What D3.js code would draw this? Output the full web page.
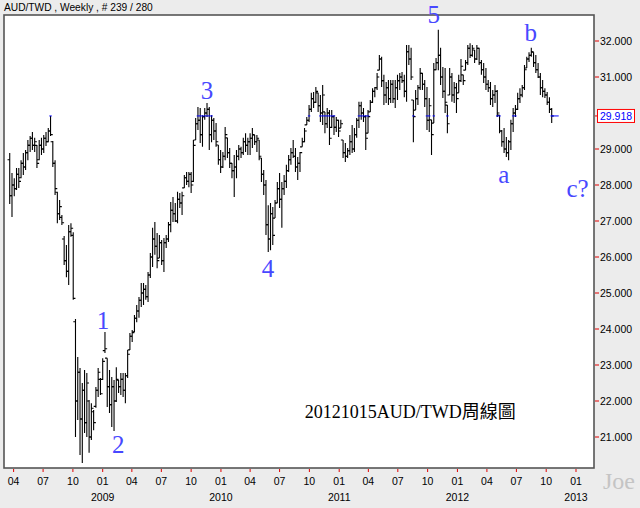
<!DOCTYPE html>
<html><head><meta charset="utf-8">
<script src="https://cdn.jsdelivr.net/npm/d3@7"></script>
<style>html,body{margin:0;padding:0;background:#ececec;}svg{display:block;}</style>
</head><body>
<svg id="chart" width="640" height="508"></svg>
<script>
const title = "AUD/TWD , Weekly , # 239 / 280";
const firstWeek = "2008-03-17";
const high = [
28.89,28.33,28.19,28.47,28.47,28.69,28.89,28.97,29.25,29.36,
29.47,29.31,29.11,29.25,29.31,29.39,29.47,29.58,29.92,29.22,
28.69,27.81,27.58,27.17,26.58,26.33,26.89,26.94,26.69,24.28,
23.22,22.92,22.50,22.86,22.78,22.03,21.94,21.75,22.39,22.92,
22.64,23.19,23.92,23.19,22.86,22.67,22.58,22.94,22.58,22.78,
22.78,22.78,23.42,23.89,23.97,24.39,24.67,24.89,25.28,25.28,
25.22,25.58,26.11,26.81,26.97,26.67,26.61,26.47,26.53,26.61,
26.97,27.53,27.67,27.50,27.81,27.78,27.81,28.28,28.36,28.36,
28.36,29.25,29.86,30.17,30.14,29.94,30.14,30.28,30.17,29.94,
29.86,29.72,29.11,28.97,28.92,29.61,29.31,29.03,28.61,28.83,
28.97,29.11,29.06,29.31,29.44,29.31,29.44,29.58,29.39,29.39,
29.25,28.75,28.42,28.14,27.44,27.50,27.39,27.58,28.08,28.33,
28.08,28.28,28.56,28.83,29.03,29.25,29.03,28.78,28.92,29.31,
29.58,29.89,30.22,30.56,30.58,30.72,30.56,30.50,30.78,30.03,
30.14,30.08,30.08,29.94,29.89,29.81,29.81,29.25,29.17,29.03,
29.39,29.67,29.58,29.86,30.31,30.31,30.14,29.94,30.08,30.36,
30.69,30.72,31.11,31.61,31.56,31.06,30.86,30.92,30.92,30.92,
30.92,31.06,31.11,31.14,31.06,31.89,31.89,31.81,30.36,30.64,
30.78,31.25,31.11,30.92,30.72,30.42,29.81,31.39,31.53,32.31,
31.81,31.28,31.25,30.22,31.25,31.11,30.86,30.83,31.06,31.50,
31.06,31.47,31.89,31.94,31.89,31.75,31.89,31.81,31.47,31.39,
31.25,30.92,30.86,30.64,30.78,30.64,29.94,29.53,29.58,29.33,
29.25,29.81,30.14,30.22,30.56,30.69,30.78,31.33,31.56,31.69,
31.81,31.69,31.61,31.39,31.11,30.92,30.69,30.58,30.44,30.14];
const low = [
27.47,27.11,27.69,27.86,27.92,28.19,28.28,28.42,28.69,28.92,
28.97,28.92,28.47,28.69,28.83,28.89,29.08,29.19,29.36,28.50,
27.72,26.94,27.03,26.89,25.78,25.44,25.22,26.56,24.81,21.00,
21.47,20.50,20.28,21.11,21.00,20.56,20.92,21.19,21.81,22.11,
22.17,22.58,23.33,21.83,21.67,21.28,21.17,21.97,22.22,22.17,
22.11,21.94,22.64,23.42,23.64,23.92,24.19,24.31,24.61,24.67,
24.81,24.75,25.42,25.72,26.06,25.69,25.97,25.78,25.58,26.25,
26.42,26.69,26.97,26.97,26.94,27.36,27.17,27.92,28.00,27.94,
27.78,28.08,29.25,29.53,29.17,29.06,29.81,29.89,28.97,29.19,
29.25,29.06,28.56,28.33,28.47,28.69,28.75,28.47,28.19,27.67,
28.19,28.69,28.75,28.83,28.92,28.83,28.83,29.03,29.11,28.92,
28.69,28.08,27.72,26.61,26.14,26.19,26.33,27.08,27.50,27.36,
26.81,27.72,27.92,28.36,28.56,28.75,28.36,28.14,28.36,29.06,
29.19,29.67,29.75,30.03,30.14,30.28,30.03,29.75,29.67,29.44,
29.58,29.11,29.58,29.39,29.47,29.33,29.58,28.75,28.64,28.75,
28.83,28.89,28.92,29.31,29.58,29.81,29.75,28.97,29.44,30.03,
30.28,30.44,30.64,31.19,30.72,30.22,30.28,30.22,30.28,30.28,
30.14,30.36,30.64,30.83,30.44,30.31,31.33,30.92,29.19,30.08,
30.22,30.64,30.64,30.17,29.53,29.47,28.83,29.72,31.19,31.19,
30.78,30.42,30.00,29.44,30.50,30.31,30.28,30.00,30.56,30.86,
30.78,31.19,31.33,31.53,31.56,31.39,31.47,31.33,31.06,30.83,
30.64,30.58,30.22,30.17,30.28,29.89,29.44,29.06,28.89,28.78,
28.69,28.97,29.47,29.89,30.08,30.28,30.44,30.64,31.25,31.42,
31.56,31.28,31.11,30.97,30.50,30.44,30.42,30.22,30.00,29.72];
const open = [
28.70,27.70,28.00,27.90,28.30,28.20,28.60,28.50,28.90,29.10,
29.30,29.10,29.10,28.70,29.10,29.00,29.30,29.20,29.50,29.20,
28.60,27.80,27.20,27.10,26.50,25.90,25.60,26.70,26.60,24.20,
22.00,22.80,21.50,22.30,21.40,22.00,21.00,21.70,21.85,22.30,
22.60,22.60,23.40,23.19,22.40,21.90,22.40,22.00,22.58,22.40,
22.60,22.30,22.70,23.42,23.80,23.92,24.30,24.50,24.80,25.00,
25.10,24.90,25.50,26.00,26.50,26.30,25.97,26.40,25.90,26.40,
26.50,26.90,27.30,27.20,27.00,27.60,27.50,27.92,28.20,28.10,
28.30,28.10,29.25,29.70,29.80,29.40,29.90,30.00,30.10,29.40,
29.80,29.50,29.11,28.70,28.50,28.80,29.31,28.90,28.60,28.40,
28.50,28.80,29.00,28.90,29.20,29.10,29.20,29.30,29.39,29.20,
29.25,28.75,28.30,28.00,26.90,26.50,27.20,27.08,27.50,27.90,
27.60,27.90,28.10,28.40,28.70,28.90,28.80,28.50,28.60,29.06,
29.20,29.67,29.80,30.10,30.40,30.30,30.56,30.20,30.00,30.03,
29.70,30.00,29.60,29.90,29.60,29.80,29.58,29.25,28.90,28.80,
28.95,29.20,29.00,29.40,29.80,30.20,30.00,29.90,29.44,30.03,
30.30,30.60,30.70,31.19,31.50,30.90,30.50,30.70,30.40,30.80,
30.40,30.70,30.90,31.00,30.90,30.60,31.70,31.50,30.36,30.08,
30.40,30.70,31.10,30.80,30.40,29.80,29.81,29.72,31.20,31.40,
31.60,31.00,30.60,30.22,30.50,31.00,30.50,30.70,30.56,30.90,
31.06,31.19,31.40,31.80,31.60,31.75,31.50,31.80,31.40,31.20,
31.00,30.80,30.70,30.40,30.50,30.60,29.94,29.50,29.20,29.00,
28.90,29.20,29.70,30.00,30.10,30.40,30.50,30.70,31.25,31.50,
31.60,31.69,31.40,31.20,31.00,30.70,30.60,30.50,30.30,30.10];
const close = [
27.70,28.00,27.90,28.30,28.10,28.60,28.50,28.90,29.10,29.30,
29.10,29.20,28.60,29.10,29.00,29.30,29.20,29.50,29.40,28.60,
27.90,27.20,27.40,26.95,25.90,25.60,26.70,26.80,24.85,22.00,
22.80,21.50,22.30,21.40,22.50,21.00,21.80,21.40,22.30,22.80,
22.20,23.10,23.45,22.40,21.90,22.40,22.00,22.60,22.40,22.60,
22.30,22.70,23.30,23.80,23.90,24.30,24.50,24.80,25.00,25.10,
24.90,25.50,26.00,26.50,26.30,25.90,26.40,25.90,26.40,26.50,
26.90,27.30,27.20,27.00,27.60,27.50,27.70,28.20,28.10,28.30,
28.00,29.10,29.70,29.80,29.40,29.90,30.00,30.10,29.40,29.80,
29.50,29.20,28.70,28.50,28.80,29.40,28.90,28.60,28.40,28.50,
28.80,29.00,28.90,29.20,29.10,29.20,29.30,29.40,29.20,29.30,
28.80,28.30,28.00,26.90,26.50,27.20,26.60,27.50,27.90,27.60,
27.90,28.10,28.40,28.70,28.90,28.80,28.50,28.60,28.90,29.20,
29.50,29.80,30.10,30.40,30.30,30.60,30.20,30.00,30.50,29.70,
30.00,29.30,29.90,29.60,29.80,29.50,29.70,28.90,28.80,28.95,
29.20,29.00,29.40,29.80,30.20,30.00,29.90,29.30,29.90,30.30,
30.60,30.70,31.00,31.50,30.90,30.50,30.70,30.40,30.80,30.40,
30.70,30.90,31.00,30.90,30.60,31.70,31.50,31.00,29.90,30.40,
30.70,31.10,30.80,30.40,29.80,30.20,29.40,31.20,31.40,31.60,
31.00,30.60,30.30,29.70,31.00,30.50,30.70,30.40,30.90,31.30,
30.90,31.40,31.80,31.60,31.80,31.50,31.80,31.40,31.20,31.00,
30.80,30.70,30.40,30.50,30.60,30.00,29.50,29.20,29.00,28.90,
29.20,29.70,30.00,30.10,30.40,30.50,30.70,31.20,31.50,31.60,
31.70,31.40,31.20,31.00,30.70,30.60,30.50,30.30,30.10,29.918];
const lastPrice = 29.918;
const priceTicks = [21,22,23,24,25,26,27,28,29,31,32];
const monthTicks = ["2008-04","2008-07","2008-10","2009-01","2009-04","2009-07","2009-10",
  "2010-01","2010-04","2010-07","2010-10","2011-01","2011-04","2011-07","2011-10",
  "2012-01","2012-04","2012-07","2012-10","2013-01"];
const waveLabels = ["1","2","3","4","5","a","b","c?"];
const waveDates  = ["2009-01-02","2009-02-18","2009-11-19","2010-05-26","2011-10-20","2012-05-23","2012-08-14","2013-01-06"];
const waveValues = [24.00,20.56,30.39,25.44,32.50,28.06,32.00,27.67];
const noteText = "20121015AUD/TWD周線圖";
const noteDate = "2010-09-17", noteValue = 21.53;
const watermark = "Joe";

const svg = d3.select("#chart");
const P = {l:4, t:15, r:594, b:468};
const pday = d3.utcParse("%Y-%m-%d"), pmon = d3.utcParse("%Y-%m");
const x = d3.scaleUtc().domain([Date.UTC(2009,0,1), Date.UTC(2013,0,1)]).range([102.7, 576]);
const y = d3.scaleLinear().domain([21,32]).range([437,41]);
const t0 = pday(firstWeek);
const bars = high.map((h,i)=>({d:d3.utcDay.offset(t0, 7*i+3), h, l:low[i], o:open[i], c:close[i]}));

svg.append("rect").attr("width",640).attr("height",508).attr("fill","#ececec");
svg.append("defs").append("clipPath").attr("id","clip").append("rect")
  .attr("x",P.l).attr("y",P.t).attr("width",P.r-P.l).attr("height",P.b-P.t);
svg.append("rect").attr("x",P.l).attr("y",P.t).attr("width",P.r-P.l).attr("height",P.b-P.t)
  .attr("fill","#fff");

const g = svg.append("g").attr("clip-path","url(#clip)");
g.selectAll("path.bar").data(bars).join("path").attr("class","bar")
  .attr("fill","none").attr("stroke","#000").attr("stroke-width",1.1)
  .attr("d", b => { const X=x(b.d); return `M${X},${y(b.h)}V${y(b.l)}M${X-2.2},${y(b.o)}H${X}M${X},${y(b.c)}H${X+2.2}`; });
// current-price marks on bars crossing the last price
g.selectAll("line.cur").data(bars.filter(b=>b.l<=lastPrice && b.h>=lastPrice)).join("line")
  .attr("x1",b=>x(b.d)-1.2).attr("x2",b=>x(b.d)+1.2)
  .attr("y1",y(lastPrice)).attr("y2",y(lastPrice)).attr("stroke","#0000ff").attr("stroke-width",1);
const lb = bars[bars.length-1];
g.append("line").attr("x1",x(lb.d)).attr("x2",x(lb.d)+7).attr("y1",y(lastPrice)).attr("y2",y(lastPrice))
  .attr("stroke","#0000ff").attr("stroke-width",1);

svg.append("rect").attr("x",P.l).attr("y",P.t).attr("width",P.r-P.l).attr("height",P.b-P.t)
  .attr("fill","none").attr("stroke","#555").attr("stroke-width",1.6);

// right axis
const ya = svg.append("g");
priceTicks.forEach(v=>{
  ya.append("line").attr("x1",P.r+1).attr("x2",P.r+5).attr("y1",y(v)).attr("y2",y(v)).attr("stroke","#e00000");
  ya.append("text").attr("x",P.r+6).attr("y",y(v)+4).text(d3.format(".3f")(v))
    .attr("font-family","Liberation Sans, Arial, sans-serif").attr("font-size",10.5).attr("fill","#000");
});
ya.append("line").attr("x1",P.r+1).attr("x2",P.r+5).attr("y1",y(lastPrice)).attr("y2",y(lastPrice)).attr("stroke","#e00000");
ya.append("rect").attr("x",P.r+3.5).attr("y",y(lastPrice)-6.5).attr("width",37).attr("height",13)
  .attr("fill","#fff").attr("stroke","#ff0000").attr("stroke-width",1);
ya.append("text").attr("x",P.r+6).attr("y",y(lastPrice)+4).text(d3.format(".3f")(lastPrice))
  .attr("font-family","Liberation Sans, Arial, sans-serif").attr("font-size",10.5).attr("fill","#0000ff");

// bottom axis
const xa = svg.append("g").attr("font-family","Liberation Sans, Arial, sans-serif").attr("font-size",10.5);
monthTicks.forEach(m=>{
  const d = pmon(m), X = x(d);
  xa.append("line").attr("x1",X).attr("x2",X).attr("y1",P.b+1).attr("y2",P.b+4).attr("stroke","#e00000");
  xa.append("text").attr("x",X).attr("y",485).attr("text-anchor","middle").text(d3.utcFormat("%m")(d));
  if (d.getUTCMonth()===0) xa.append("text").attr("x",X).attr("y",501).attr("text-anchor","middle").text(d3.utcFormat("%Y")(d));
});

// title
svg.append("text").attr("x",4).attr("y",11).text(title)
  .attr("font-family","Liberation Sans, Arial, sans-serif").attr("font-size",10.2).attr("fill","#000");

// wave labels
svg.append("g").selectAll("text").data(waveLabels).join("text")
  .attr("x",(t,i)=>x(pday(waveDates[i]))).attr("y",(t,i)=>y(waveValues[i]))
  .attr("text-anchor","middle").attr("font-family","Liberation Serif, Times New Roman, serif")
  .attr("font-size",25).attr("fill","#4848ff").text(t=>t);

svg.append("text").attr("x",x(pday(noteDate))).attr("y",y(noteValue)).text(noteText)
  .attr("font-family","Liberation Serif, 'Noto Sans CJK TC', serif").attr("font-size",18).attr("fill","#000");

svg.append("text").attr("x",603).attr("y",489).text(watermark)
  .attr("font-family","Liberation Serif, serif").attr("font-size",24).attr("fill","#c4c4c4");
</script>
</body></html>
